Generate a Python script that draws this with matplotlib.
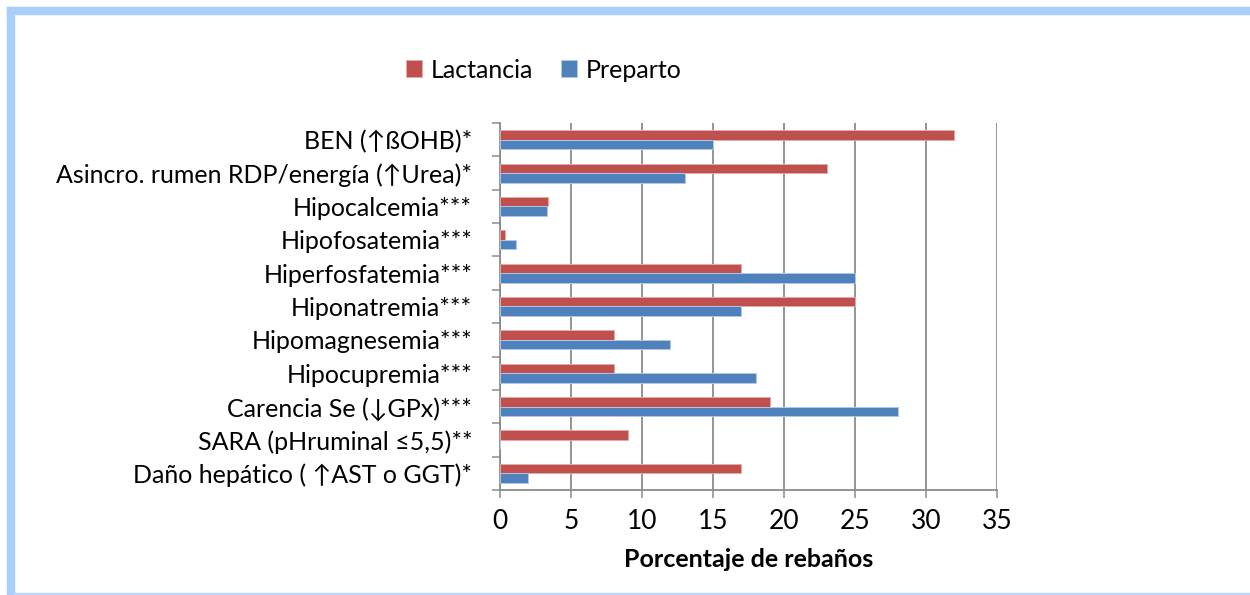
import matplotlib
matplotlib.use("Agg")
import matplotlib.pyplot as plt
from matplotlib.patches import Rectangle

# categories, top to bottom
categories = [
    "BEN (↑ßOHB)*",
    "Asincro. rumen RDP/energía (↑Urea)*",
    "Hipocalcemia***",
    "Hipofosatemia***",
    "Hiperfosfatemia***",
    "Hiponatremia***",
    "Hipomagnesemia***",
    "Hipocupremia***",
    "Carencia Se (↓GPx)***",
    "SARA (pHruminal ≤5,5)**",
    "Daño hepático ( ↑AST o GGT)*",
]
lactancia = [32, 23, 3.4, 0.35, 17, 25, 8, 8, 19, 9, 17]
preparto = [15, 13, 3.3, 1.1, 25, 17, 12, 18, 28, 0, 2]
x_ticks = [0, 5, 10, 15, 20, 25, 30, 35]

RED = "#C0504D"
BLUE = "#4F81BD"
GRID = "#8C8C8C"
FONT = ["Lato", "DejaVu Sans"]

plt.rcParams["font.family"] = FONT

fig = plt.figure(figsize=(12.5, 5.95), dpi=100)
ax = fig.add_axes([0.4, 0.1765, 0.3976, 0.6168])

pos = list(range(len(categories)))
h = 0.285
ax.barh([p - h / 2 for p in pos], lactancia, height=h, color=RED,
        edgecolor="#E3AAA8", linewidth=0.7, label="Lactancia", zorder=3)
ax.barh([p + h / 2 for p in pos], preparto, height=h, color=BLUE,
        edgecolor="#B3C8E6", linewidth=0.7, label="Preparto", zorder=3)

ax.set_ylim(len(categories) - 0.5, -0.5)
ax.set_xlim(0, 35)
ax.set_xticks(x_ticks)
ax.set_xticklabels([str(t) for t in x_ticks], fontsize=19)
ax.set_yticks(pos)
ax.set_yticklabels(categories, fontsize=18)
ax.set_yticks([p - 0.5 for p in pos] + [len(pos) - 0.5], minor=True)

ax.tick_params(axis="y", which="major", length=0, pad=20)
ax.tick_params(axis="y", which="minor", length=6, color=GRID, width=1.1)
ax.tick_params(axis="x", length=6, color=GRID, width=1.1, pad=8)

ax.grid(axis="x", color=GRID, linewidth=1.3, zorder=0)
for side in ["top", "right"]:
    ax.spines[side].set_visible(False)
for side in ["left", "bottom"]:
    ax.spines[side].set_color(GRID)
    ax.spines[side].set_linewidth(1.3)

ax.set_xlabel("Porcentaje de rebaños", fontsize=18, fontweight="bold", labelpad=10)

fig.legend(loc="center", bbox_to_anchor=(544 / 1250, 1 - 70 / 595), ncol=2,
           frameon=False, fontsize=18, handlelength=0.65, handleheight=0.65,
           handletextpad=0.35, columnspacing=1.1)

# light blue frame around the chart
fig.patches.append(Rectangle((7 / 1250, 0), 7 / 1250, 1 - 7 / 595,
                             transform=fig.transFigure, color="#AACFFD", zorder=0))
fig.patches.append(Rectangle((7 / 1250, 1 - 14 / 595), 1, 7 / 595,
                             transform=fig.transFigure, color="#AACFFD", zorder=0))
fig.patches.append(Rectangle((14 / 1250, 0), 1, 2 / 595,
                             transform=fig.transFigure, color="#BBD8FD", zorder=0))

fig.savefig("out.png", dpi=100)
